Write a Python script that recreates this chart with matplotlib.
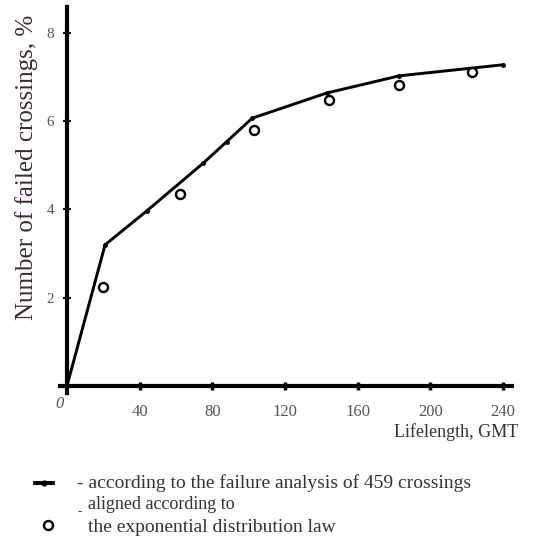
import matplotlib.pyplot as plt
from matplotlib.lines import Line2D

plt.rcParams['font.family'] = ['Liberation Serif', 'DejaVu Serif']

# failure analysis curve (459 crossings)
line_x = [0, 21, 44, 75, 88, 102, 143, 183, 240]
line_y = [0, 3.2, 3.97, 5.05, 5.54, 6.07, 6.64, 7.03, 7.28]

# exponential distribution law points
circ_x = [20, 62, 103, 144, 183, 223]
circ_y = [2.25, 4.35, 5.8, 6.48, 6.83, 7.12]

x_ticks = [40, 80, 120, 160, 200, 240]
x_labels = ['40', '80', '120', '160', '200', '240']
y_ticks = [2, 4, 6, 8]
y_labels = ['2', '4', '6', '8']

fig = plt.figure(figsize=(5.45, 5.46), dpi=100)
ax = fig.add_axes([0.1095, 0.281, 0.83, 0.707])

ax.plot(line_x, line_y, color='black', lw=2.1, marker='o', ms=2.5)
ax.plot(circ_x, circ_y, ls='none', marker='o', ms=6.5, mfc='white',
        mec='black', mew=1.7)

ax.set_xlim(-4, 245)
ax.set_ylim(-0.15, 8.6)
for s in ['top', 'right']:
    ax.spines[s].set_visible(False)
ax.spines['left'].set_position(('data', 0))
ax.spines['bottom'].set_position(('data', 0))
ax.spines['left'].set_linewidth(3)
ax.spines['bottom'].set_linewidth(3)

ax.set_xticks(x_ticks)
ax.set_xticklabels(x_labels)
ax.set_yticks(y_ticks)
ax.set_yticklabels(y_labels)
ax.tick_params(axis='x', direction='inout', length=6, width=2.5,
               labelsize=12, labelcolor='#555555', pad=10)
ax.tick_params(axis='y', direction='inout', length=6, width=1.5,
               labelsize=11, labelcolor='#555555', pad=6)
ax.text(-1.5, -0.4, '0', ha='right', va='center', fontsize=12,
        color='#555555', style='italic')

fig.text(0.048, 0.693, 'Number of failed crossings, %', rotation=90,
         ha='center', va='center', fontsize=18, color='#3a2e2e')
fig.text(0.951, 0.208, 'Lifelength, GMT', ha='right', va='center',
         fontsize=13, color='#333333')

# legend drawn by hand below the chart
fig.add_artist(Line2D([0.064, 0.081, 0.097], [0.115, 0.115, 0.115], color='black',
                      lw=2.8, marker='o', ms=3.5, markevery=[1],
                      transform=fig.transFigure))
fig.add_artist(Line2D([0.088], [0.039], ls='none', marker='o', ms=6.5,
                      mfc='white', mec='black', mew=1.7, transform=fig.transFigure))
fig.text(0.141, 0.115, '- according to the failure analysis of 459 crossings',
         ha='left', va='center', fontsize=14, color='#333333')
fig.text(0.161, 0.076, 'aligned according to',
         ha='left', va='center', fontsize=13, color='#333333')
fig.text(0.143, 0.062, '-', ha='left', va='center', fontsize=9, color='#333333')
fig.text(0.161, 0.033, 'the exponential distribution law',
         ha='left', va='center', fontsize=14, color='#333333')

fig.savefig('out.png', dpi=100)
